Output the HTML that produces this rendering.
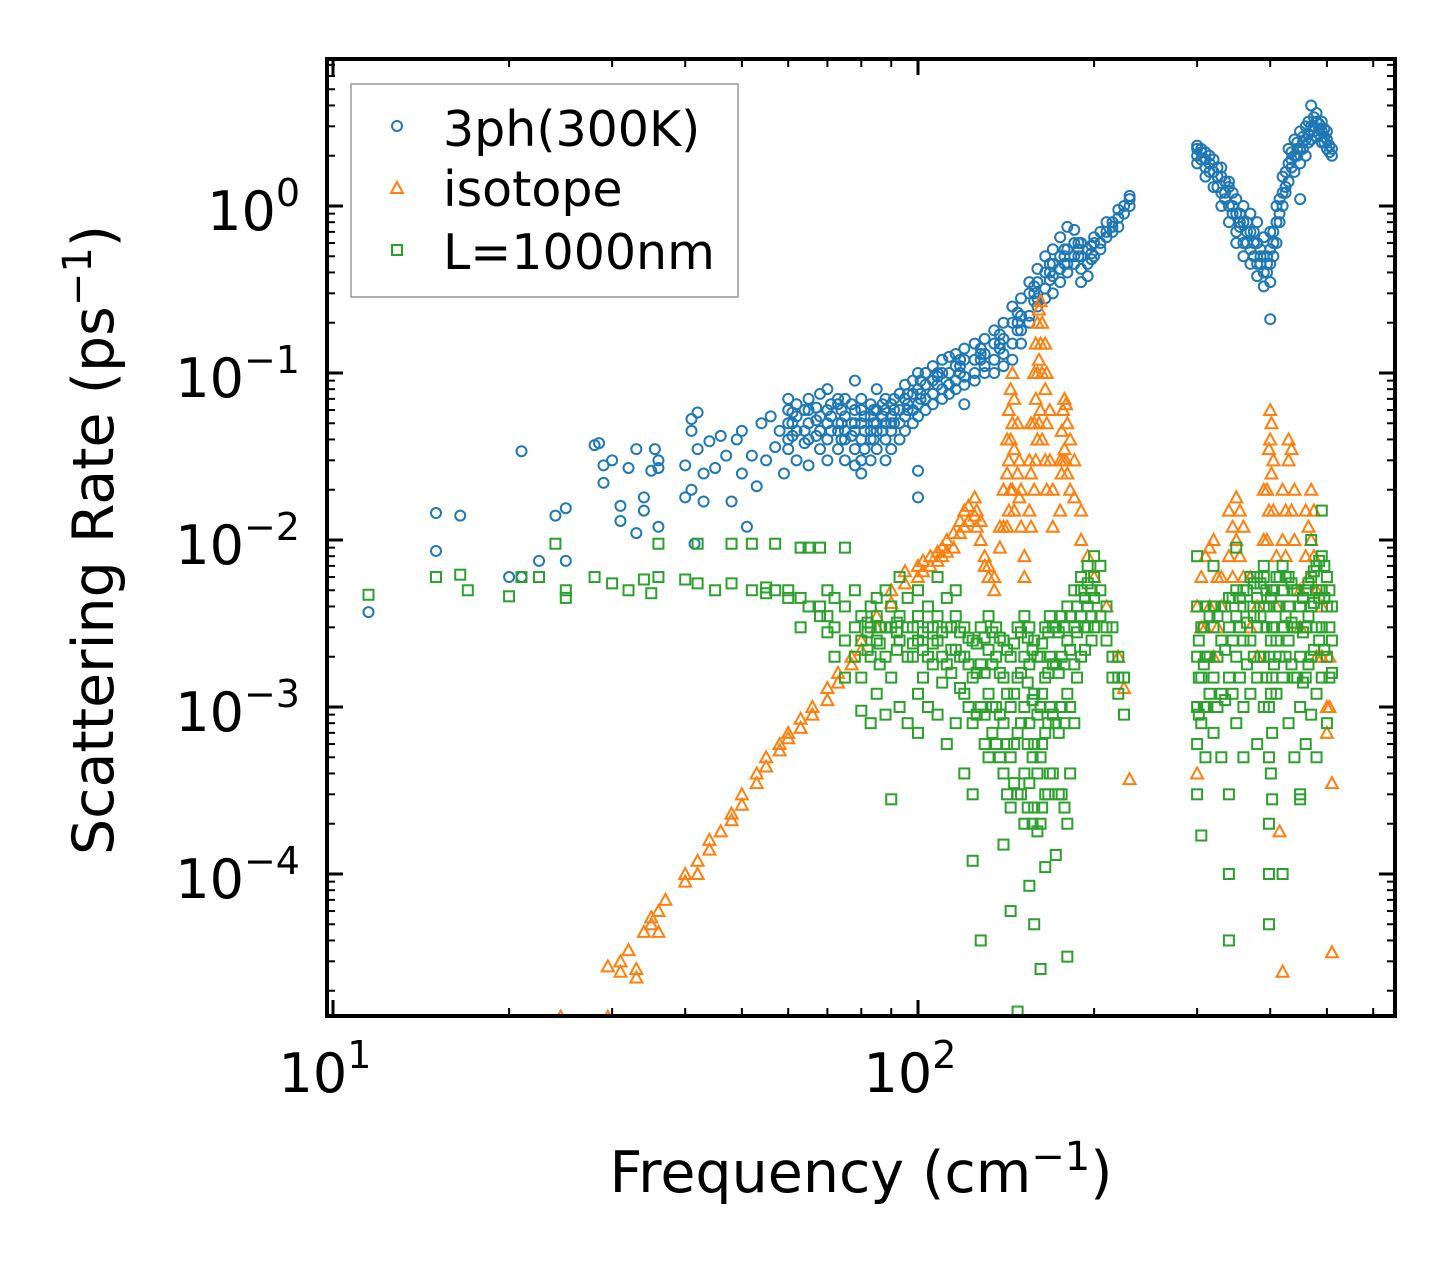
<!DOCTYPE html>
<html><head><meta charset="utf-8"><style>
html,body{margin:0;padding:0;background:#fff;}
svg{display:block;font-family:"DejaVu Sans","Liberation Sans",sans-serif;}
</style></head><body>
<svg id="chart" width="1455" height="1265" viewBox="0 0 1455 1265" xmlns="http://www.w3.org/2000/svg">
<g id="marks"></g>
<g id="axes"></g>
<rect x="327" y="59" width="1068" height="957" fill="none" stroke="#000" stroke-width="4"/>
<g>
<rect x="351" y="84" width="387" height="213" fill="#fff" fill-opacity="0.8" stroke="#999" stroke-width="1.5"/>
<circle cx="397" cy="126" r="5" fill="none" stroke="#1f77b4" stroke-width="2"/>
<text x="443" y="146" font-size="49">3ph(300K)</text>
<path d="M397,182 L403,193 L391,193 Z" fill="none" stroke="#ff7f0e" stroke-width="2"/>
<text x="443" y="206" font-size="49">isotope</text>
<rect x="392" y="245" width="10" height="10" fill="none" stroke="#2ca02c" stroke-width="2"/>
<text x="443" y="269" font-size="49">L=1000nm</text>
</g>
<text x="861" y="1192" font-size="57" text-anchor="middle">Frequency (cm<tspan font-size="40" dy="-22">−1</tspan><tspan dy="22">)</tspan></text>
<text transform="translate(113,540) rotate(-90)" font-size="57" text-anchor="middle">Scattering Rate (ps<tspan font-size="40" dy="-22">−1</tspan><tspan dy="22">)</tspan></text>
</svg>
<script>
const NS="http://www.w3.org/2000/svg";
const xTicks=[1,2];
const yTicks=[0,-1,-2,-3,-4];
const yTickLabels=["0","−1","−2","−3","−4"];
const blueLow=[[11.5,0.0037],[15,0.0145],[15,0.0086],[16.5,0.014],[21,0.034],[20,0.006],[21,0.006],[22.5,0.0075],[24,0.014],[25,0.0155],[25,0.0075],[28,0.037],[28.5,0.038],[29,0.022],[29,0.028],[30,0.03],[31,0.016],[31,0.013],[32,0.027],[33,0.011],[33,0.035],[34,0.018],[34,0.015],[35,0.026],[35.5,0.035],[36,0.03],[36,0.027],[36,0.012],[40,0.018],[40,0.028],[41,0.053],[41,0.045],[41,0.02],[41.5,0.0095],[42,0.058],[42,0.035],[43,0.025],[43,0.017],[44,0.039],[45,0.027],[46,0.042],[47,0.032],[48,0.017],[49,0.04],[50,0.045],[50,0.025],[51,0.012],[52,0.032],[53,0.021],[54,0.05],[55,0.03],[56,0.055],[57,0.036],[58,0.045],[59,0.025]];
const blueGroups=[[60,[0.06,0.04,0.05,0.07,0.035]],[62,[0.045,0.065,0.03,0.055]],[65,[0.05,0.07,0.04,0.028,0.06]],[68,[0.055,0.075,0.035,0.045]],[70,[0.06,0.04,0.08,0.03,0.05]],[73,[0.05,0.065,0.035,0.045,0.07]],[75,[0.07,0.04,0.055,0.03,0.045]],[78,[0.06,0.045,0.09,0.035,0.028,0.05]],[80,[0.05,0.07,0.04,0.03,0.025,0.06]],[83,[0.055,0.04,0.065,0.03,0.045]],[85,[0.06,0.045,0.08,0.035,0.05]],[88,[0.05,0.07,0.04,0.03,0.06]],[90,[0.055,0.065,0.045,0.035,0.05]],[93,[0.06,0.075,0.05,0.04]],[95,[0.07,0.055,0.085,0.045]],[98,[0.075,0.06,0.09,0.05]],[100,[0.08,0.065,0.1,0.055,0.026,0.018]],[103,[0.085,0.07,0.1,0.06]],[106,[0.09,0.075,0.11,0.065]],[110,[0.1,0.08,0.12,0.07]],[113,[0.1,0.085,0.125,0.075]],[116,[0.11,0.09,0.13,0.08]],[120,[0.12,0.095,0.14,0.085,0.065]],[125,[0.12,0.1,0.15,0.09]],[130,[0.13,0.11,0.16,0.1]],[135,[0.15,0.12,0.18,0.1]],[140,[0.16,0.13,0.2,0.11]],[145,[0.2,0.15,0.25,0.12]],[150,[0.22,0.18,0.28,0.15]],[155,[0.3,0.22,0.35,0.2]],[160,[0.35,0.28,0.42,0.25]],[165,[0.4,0.32,0.5,0.28]],[170,[0.45,0.38,0.55,0.3]],[175,[0.5,0.42,0.65,0.35]],[180,[0.55,0.45,0.75,0.4]],[185,[0.6,0.5,0.72,0.45]],[190,[0.5,0.42,0.6,0.35]],[195,[0.45,0.55,0.38]],[200,[0.5,0.6,0.65]],[210,[0.65,0.8,0.7]],[220,[0.85,0.95,0.75]],[230,[1.1,1.0,1.15]],[300,[2.3,2.0,2.2,1.8]],[310,[2.1,1.7,1.9,1.5]],[320,[1.6,1.9,1.3]],[330,[1.2,1.5,1.0,1.7]],[340,[1.0,1.3,0.8,1.4]],[350,[0.9,1.1,0.7,0.6]],[360,[0.8,1.0,0.6,0.5]],[370,[0.7,0.55,0.9,0.45]],[380,[0.6,0.45,0.8,0.38]],[390,[0.5,0.4,0.65,0.33]],[400,[0.45,0.55,0.7,0.21,0.35]],[410,[0.8,1.0,0.6]],[420,[1.2,1.5,1.0]],[430,[1.8,2.2,1.4]],[440,[2.0,2.5,1.6]],[450,[2.2,2.8,1.8,1.1]],[460,[2.5,3.0,2.0]],[470,[3.0,4.0,2.5]],[480,[3.2,2.6,3.6]],[490,[2.8,2.4,3.2]],[500,[2.5,2.2,2.8]],[510,[2.2,2.0]]];
const blueExtra=[[61,[0.05,0.042,0.058]],[64,[0.06,0.045,0.038]],[67,[0.052,0.062,0.042]],[71,[0.055,0.045,0.065]],[74,[0.06,0.05,0.04]],[77,[0.05,0.065,0.042]],[81,[0.045,0.055,0.035]],[84,[0.05,0.06,0.04]],[87,[0.055,0.045,0.065]],[91,[0.06,0.05,0.07]],[96,[0.065,0.075,0.06]],[101,[0.075,0.09,0.07]],[108,[0.085,0.1,0.095]],[118,[0.11,0.12,0.1]],[128,[0.12,0.14,0.13]],[138,[0.15,0.17,0.14]],[148,[0.2,0.23,0.18]],[158,[0.3,0.33,0.27]],[168,[0.4,0.45,0.36]],[178,[0.5,0.55,0.45]],[188,[0.55,0.5,0.6]],[198,[0.48,0.52,0.58]],[205,[0.6,0.55,0.7]],[215,[0.75,0.7,0.8]],[225,[0.9,1.0]],[305,[2.1,1.9,2.2]],[315,[1.8,1.6,2.0]],[325,[1.5,1.3,1.7]],[335,[1.2,1.1,1.4]],[345,[1.0,0.9,1.2]],[355,[0.9,0.75,0.8]],[365,[0.7,0.8,0.6]],[375,[0.6,0.7,0.5]],[385,[0.5,0.55,0.45]],[395,[0.45,0.5,0.4]],[405,[0.6,0.7,0.5]],[415,[0.9,1.1,0.8]],[425,[1.3,1.6,1.2]],[435,[1.9,2.1,1.7]],[445,[2.2,2.4,2.0]],[455,[2.4,2.6,2.2]],[465,[2.7,3.2,2.4]],[475,[3.0,3.4,2.8]],[485,[2.9,3.1,2.7]],[495,[2.6,2.9,2.4]],[505,[2.3,2.1]]];
const orangeGroups=[[24.5,[1.4e-5]],[29.5,[1.4e-5,2.8e-5]],[31,[3e-5,2.6e-5]],[32,[3.5e-5]],[33,[2.7e-5,2.4e-5]],[34,[4.5e-5]],[35,[5.5e-5,5e-5]],[36,[6e-5,4.5e-5]],[37,[7e-5]],[40,[1e-4,9e-5]],[42,[1.2e-4,1e-4]],[44,[1.6e-4,1.4e-4]],[46,[1.8e-4]],[48,[2.3e-4,2.1e-4]],[50,[3e-4,2.6e-4]],[53,[4e-4,3.5e-4]],[55,[5e-4,4.4e-4]],[58,[6e-4,5.5e-4]],[60,[7e-4,6.5e-4]],[63,[8.5e-4,7.5e-4]],[66,[1e-3,9e-4]],[70,[1.3e-3,1.1e-3]],[73,[1.6e-3,1.4e-3]],[77,[2e-3,1.8e-3]],[80,[2.5e-3,2.2e-3]],[85,[3.5e-3,3e-3]],[90,[5e-3,4.2e-3]],[95,[6.5e-3,5.5e-3]],[100,[7e-3,6e-3]],[105,[8e-3,7e-3]],[110,[9e-3,8e-3]],[115,[0.011,0.009]],[120,[0.015,0.012]],[125,[0.018,0.014]],[128,[0.013,0.01]],[130,[0.008,0.007]],[135,[0.006,0.005]],[140,[0.02,0.012]],[143,[0.06,0.03,0.015]],[145,[0.1,0.05,0.02]],[148,[0.05,0.025]],[150,[0.02,0.012]],[152,[0.008,0.006]],[155,[0.03,0.015]],[158,[0.1,0.05,0.02]],[160,[0.2,0.1,0.04]],[162,[0.27,0.15,0.06]],[165,[0.15,0.08,0.03]],[168,[0.06,0.03]],[170,[0.02,0.012]],[175,[0.03,0.015]],[178,[0.07,0.035]],[180,[0.05,0.025]],[185,[0.03,0.018]],[190,[0.015,0.01]],[195,[0.008]],[200,[0.006]],[210,[0.004]],[220,[0.002]],[225,[0.0013]],[230,[0.00037]],[300,[0.004,0.0004]],[310,[0.008,0.003]],[320,[0.01,0.002]],[330,[0.004,0.006]],[340,[0.008,0.015]],[350,[0.018,0.01]],[360,[0.012,0.006]],[370,[0.006,0.003]],[380,[0.004,0.002]],[390,[0.01,0.02]],[400,[0.04,0.06]],[405,[0.03,0.015]],[410,[0.004,0.008]],[415,[0.00018]],[420,[0.01,0.02,2.6e-5]],[430,[0.03,0.04]],[440,[0.02,0.01]],[450,[0.005,0.003]],[460,[0.008,0.015]],[470,[0.02,0.01]],[480,[0.005,0.002]],[500,[0.001,0.0007]],[510,[0.00035,3.4e-5]]];
const orangeExtra=[[102,[7.5e-3,6.5e-3]],[108,[8.5e-3,7.5e-3]],[112,[1e-2,8.5e-3]],[118,[1.3e-2,1.1e-2]],[122,[1.6e-2,1.3e-2]],[126,[1.5e-2,1.2e-2]],[132,[7e-3,6e-3]],[138,[0.012,0.009]],[142,[0.04,0.025,0.012]],[144,[0.08,0.04,0.02]],[146,[0.07,0.035,0.015]],[149,[0.03,0.018]],[156,[0.05,0.025,0.012]],[159,[0.15,0.07,0.03]],[161,[0.24,0.12,0.05]],[163,[0.2,0.1,0.04]],[166,[0.1,0.05,0.02]],[176,[0.045,0.025]],[177,[0.06,0.03]],[179,[0.065,0.03]],[182,[0.04,0.02]],[305,[0.006,0.003]],[315,[0.009,0.004]],[325,[0.006,0.003]],[345,[0.012,0.006]],[355,[0.015,0.008]],[395,[0.02,0.01]],[398,[0.035,0.015]],[402,[0.05,0.025]],[425,[0.015,0.008]],[435,[0.035,0.015]],[465,[0.012,0.006]],[475,[0.015,0.008]],[490,[0.004,0.002]],[505,[0.002,0.001]]];
const greenGroups=[[11.5,[0.0047]],[15,[0.006]],[16.5,[0.0062]],[17,[0.005]],[20,[0.0046]],[21,[0.006]],[22.5,[0.006]],[24,[0.0095]],[25,[0.005,0.0045]],[28,[0.006]],[30,[0.0055]],[32,[0.005]],[34,[0.0058]],[35,[0.0048]],[36,[0.006,0.0095]],[40,[0.0058]],[42,[0.0055,0.0095]],[45,[0.005]],[48,[0.0055,0.0095]],[52,[0.005,0.0095]],[55,[0.0048,0.0052]],[57,[0.0095,0.005]],[60,[0.005,0.0045]],[63,[0.0045,0.009,0.003]],[65,[0.009,0.004]],[68,[0.004,0.0035,0.009]],[70,[0.0035,0.005,0.0028]],[72,[0.003,0.0045,0.002]],[75,[0.0025,0.004,0.0015,0.009]],[78,[0.003,0.002,0.005]],[80,[0.0035,0.0025,0.0015,0.00095]],[83,[0.004,0.003,0.002,0.0008]],[85,[0.0035,0.0025,0.0045,0.0012]],[88,[0.003,0.002,0.005,0.0009]],[90,[0.003,0.004,0.0015,0.00028]],[93,[0.0035,0.0025,0.006,0.001]],[96,[0.003,0.002,0.0045,0.0008]],[100,[0.0035,0.0025,0.005,0.0012,0.0007]],[104,[0.003,0.004,0.002,0.001]],[108,[0.0035,0.0025,0.006,0.0009]],[112,[0.003,0.0018,0.0045,0.0006]],[116,[0.0035,0.0022,0.005,0.0008]],[120,[0.003,0.002,0.0012,0.0004]],[124,[0.0025,0.0015,0.0008,0.0003,0.00012]],[128,[0.003,0.0018,0.001,0.00004]],[132,[0.0035,0.0022,0.0012,0.0005]],[136,[0.003,0.002,0.001,0.0006]],[140,[0.0025,0.0015,0.0008,0.0004,0.00015]],[144,[0.002,0.001,0.0005,0.00025,0.00006]],[148,[0.003,0.0015,0.0007,0.0003,0.000015]],[152,[0.0035,0.002,0.001,0.0004,0.0002]],[155,[0.003,0.0018,0.0008,0.00035,0.000085]],[158,[0.0025,0.0012,0.0006,0.00025,0.00005]],[162,[0.002,0.001,0.0005,0.0002,0.000027]],[165,[0.003,0.0015,0.0007,0.0003,0.00011]],[168,[0.0035,0.002,0.001,0.0004]],[172,[0.003,0.0018,0.0008,0.00013]],[176,[0.0035,0.002,0.001,0.0003]],[180,[0.004,0.0025,0.0012,0.0002,0.000032]],[185,[0.005,0.003,0.0018,0.0008]],[190,[0.005,0.0035,0.002,0.006]],[195,[0.0055,0.004,0.007,0.003]],[200,[0.006,0.0045,0.008,0.003]],[205,[0.005,0.0035,0.007]],[210,[0.004,0.003,0.0025]],[215,[0.003,0.002,0.0015]],[220,[0.002,0.0015,0.0012]],[225,[0.0015,0.0009]],[300,[0.002,0.001,0.0006,0.0003,0.004,0.008]],[305,[0.003,0.0015,0.0008,0.00017]],[310,[0.004,0.002,0.001,0.0005]],[320,[0.004,0.003,0.0015,0.0007,0.007]],[330,[0.004,0.0025,0.0012,0.0005]],[340,[0.0045,0.003,0.0015,0.0003,0.0001,0.00004]],[350,[0.005,0.0035,0.002,0.0008,0.009]],[360,[0.005,0.004,0.0025,0.001,0.0005]],[370,[0.006,0.004,0.0025,0.0012]],[380,[0.006,0.0045,0.003,0.0015,0.0006]],[390,[0.006,0.004,0.002,0.001,0.007]],[398,[0.004,0.002,0.001,0.0005,0.0002,0.0001,0.00005]],[403,[0.005,0.003,0.0015,0.0007,0.00028]],[410,[0.006,0.004,0.0025,0.0012]],[420,[0.007,0.005,0.003,0.0015,0.0001]],[430,[0.006,0.004,0.0025,0.0008]],[440,[0.005,0.003,0.0015,0.0005]],[450,[0.004,0.002,0.001,0.0003,0.00028]],[460,[0.005,0.003,0.0015,0.0006]],[470,[0.006,0.004,0.002,0.0009,0.01]],[480,[0.007,0.005,0.003,0.0012,0.0005]],[490,[0.008,0.005,0.003,0.0015,0.015]],[500,[0.006,0.004,0.002,0.0008]],[510,[0.004,0.0025,0.0016]]];
const greenExtra=[[82,[0.0028,0.0022,0.0032]],[86,[0.003,0.0024,0.0018]],[92,[0.0028,0.0022,0.0032]],[98,[0.003,0.0024,0.002]],[102,[0.0028,0.0022,0.0015]],[106,[0.003,0.0024,0.0018]],[110,[0.0028,0.002,0.0014]],[114,[0.003,0.0022,0.0016]],[118,[0.0028,0.002,0.0013]],[122,[0.0026,0.0018,0.001]],[126,[0.0024,0.0016,0.0009]],[130,[0.0026,0.0016,0.0009,0.0006]],[134,[0.0028,0.0018,0.001,0.0007]],[138,[0.0026,0.0016,0.0009,0.0005]],[142,[0.0022,0.0012,0.0006,0.0003]],[146,[0.0024,0.0012,0.0006,0.00035]],[150,[0.0028,0.0016,0.0008,0.0003]],[154,[0.0026,0.0014,0.0006,0.00025]],[157,[0.0022,0.0011,0.0005,0.0002]],[160,[0.002,0.0009,0.0004,0.00018]],[163,[0.0024,0.0012,0.0006,0.00025]],[167,[0.0028,0.0016,0.0008,0.0003]],[170,[0.003,0.0018,0.0009,0.0004]],[174,[0.0028,0.0016,0.0007,0.0003]],[178,[0.003,0.0018,0.0008,0.00025]],[182,[0.0035,0.0022,0.001,0.0004]],[187,[0.004,0.0028,0.0015]],[193,[0.0045,0.003,0.0022]],[198,[0.005,0.0035,0.0025]],[302,[0.0025,0.0015,0.0009]],[308,[0.003,0.0018,0.001]],[315,[0.0035,0.002,0.0012]],[325,[0.0035,0.002,0.001]],[335,[0.004,0.0022,0.0011]],[345,[0.0045,0.0025,0.0012]],[355,[0.0045,0.003,0.0015]],[365,[0.005,0.0032,0.0018]],[375,[0.0055,0.0035,0.002]],[385,[0.0055,0.0035,0.002]],[394,[0.005,0.003,0.0015]],[401,[0.0045,0.0025,0.0012,0.0004]],[406,[0.005,0.003,0.0018]],[415,[0.006,0.004,0.002]],[425,[0.006,0.0035,0.002]],[435,[0.0055,0.0032,0.0018]],[445,[0.005,0.003,0.0015]],[455,[0.0045,0.0028,0.0014]],[465,[0.0055,0.0035,0.0018]],[475,[0.0065,0.0042,0.0022]],[485,[0.0075,0.0045,0.0025]],[495,[0.007,0.0045,0.0022]],[505,[0.005,0.003,0.0015]]];

const X0=333, DX=585, Y0=206, DY=167;
const xS=f=>X0+(Math.log10(f)-1)*DX;
const yS=v=>Y0-Math.log10(v)*DY;
const marks=document.getElementById('marks');
const axes=document.getElementById('axes');
function mk(tag,attrs,parent){const e=document.createElementNS(NS,tag);for(const k in attrs)e.setAttribute(k,attrs[k]);parent.appendChild(e);return e;}
function flat(groups){const out=[];groups.forEach(g=>g[1].forEach(v=>out.push([g[0],v])));return out;}
const clip=mk('clipPath',{id:'pc'},marks);
mk('rect',{x:329,y:61,width:1064,height:953},clip);
marks.setAttribute('clip-path','url(#pc)');
flat(blueGroups).concat(flat(blueExtra)).concat(blueLow).forEach(p=>{
 const c=mk('circle',{cx:xS(p[0]),cy:yS(p[1]),r:5,fill:'none',stroke:'#1f77b4','stroke-width':2},marks);
 
 
});
flat(orangeGroups).concat(flat(orangeExtra)).forEach(p=>{
 const x=xS(p[0]),y=yS(p[1]);
 const t=mk('path',{d:`M${x},${y-6} L${x+6},${y+5} L${x-6},${y+5} Z`,fill:'none',stroke:'#ff7f0e','stroke-width':2},marks);
 
 
});
flat(greenGroups).concat(flat(greenExtra)).forEach(p=>{
 const s=mk('rect',{x:xS(p[0])-5,y:yS(p[1])-5,width:10,height:10,fill:'none',stroke:'#2ca02c','stroke-width':2},marks);
 
 
});
for(let d=1;d<=2;d++){for(let m=1;m<=9;m++){const f=m*Math.pow(10,d);const x=xS(f);if(x<327||x>1395)continue;const L=m===1?16:8;
 const t1=mk('line',{x1:x,x2:x,y1:1016,y2:1016-L,stroke:'#000','stroke-width':m===1?3:2},axes);
 
 
 mk('line',{x1:x,x2:x,y1:59,y2:59+L,stroke:'#000','stroke-width':m===1?3:2},axes);}}
xTicks.forEach(d=>{const tx=mk('text',{x:xS(Math.pow(10,d))-8,y:1092,'font-size':54,'text-anchor':'middle'},axes);
 
 
 tx.innerHTML=`10<tspan font-size="38" dy="-24">${d}</tspan>`;});
for(let d=-5;d<=0;d++){for(let m=1;m<=9;m++){const v=m*Math.pow(10,d);const y=yS(v);if(y<59||y>1016)continue;const L=m===1?16:8;
 const t2=mk('line',{x1:327,x2:327+L,y1:y,y2:y,stroke:'#000','stroke-width':m===1?3:2},axes);
 
 
 mk('line',{x1:1395,x2:1395-L,y1:y,y2:y,stroke:'#000','stroke-width':m===1?3:2},axes);}}
yTicks.forEach((d,i)=>{const ty=mk('text',{x:300,y:yS(Math.pow(10,d))+24,'font-size':54,'text-anchor':'end'},axes);
 
 
 ty.innerHTML=`10<tspan font-size="38" dy="-24">${yTickLabels[i]}</tspan>`;});
</script>
</body></html>
